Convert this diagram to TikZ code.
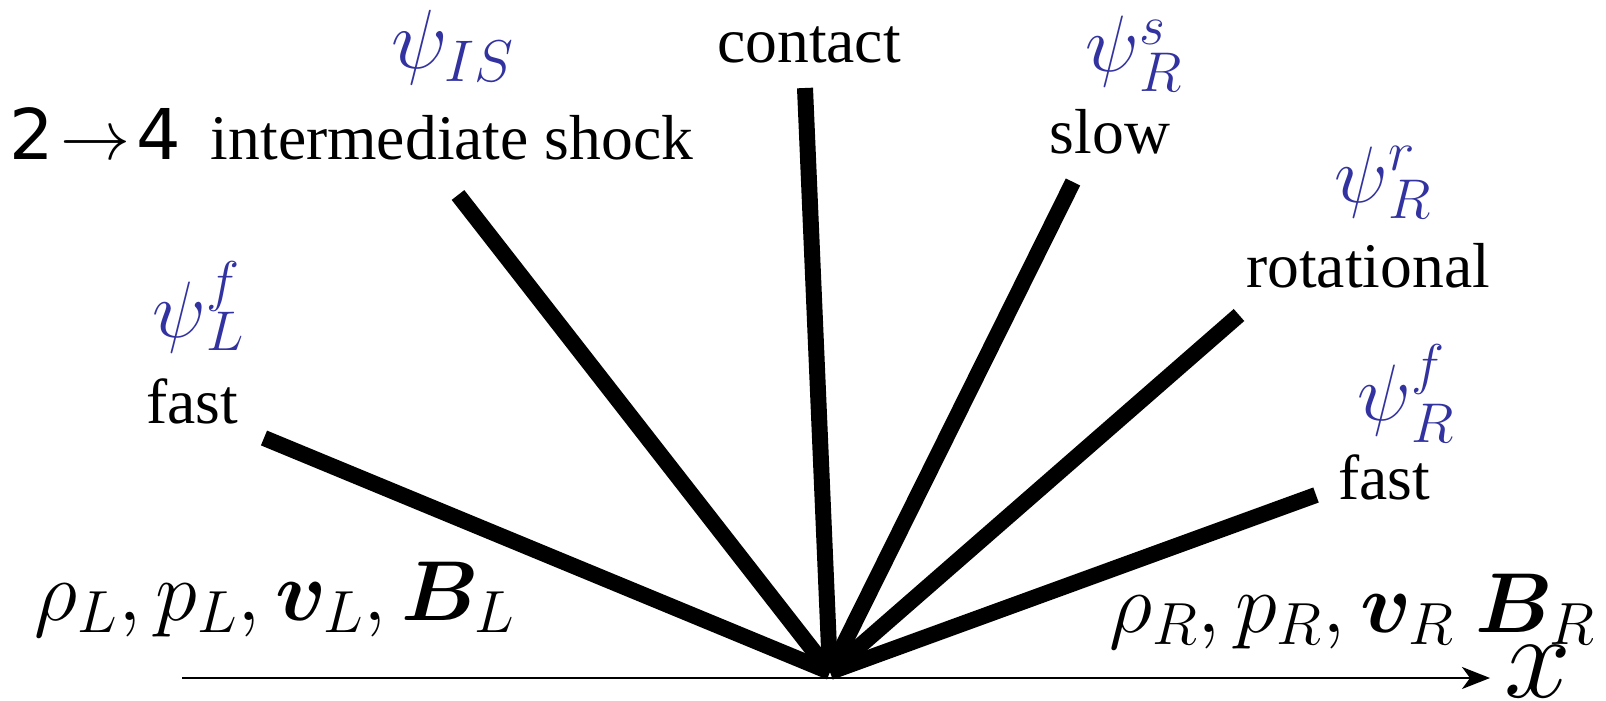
\documentclass[tikz,border=0pt]{standalone}
\usepackage{fix-cm}
\usepackage{bm}
\usepackage[no-math]{fontspec}
\setmainfont{Liberation Serif}
\newfontfamily\sansf{DejaVu Sans}
\usetikzlibrary{arrows.meta}
\definecolor{psiblue}{RGB}{50,50,160}
% psi with separately placed superscript (#1, raised #3) and subscript (#2, lowered #4)
\newcommand{\psiss}[4]{\psi\rlap{\raisebox{#3}{$\scriptstyle #1$}}\raisebox{-#4}{$\scriptstyle #2$}}
\begin{document}
\begin{tikzpicture}[x=0.5pt,y=-0.5pt,
  wave/.style={line width=8pt,line cap=butt},
  lbl/.style={font=\fontsize{31.8}{36}\selectfont, inner sep=0pt},
  psi/.style={text=psiblue, font=\fontsize{40}{46}\selectfont, inner sep=0pt},
  statelbl/.style={font=\fontsize{42.5}{48}\selectfont, inner sep=0pt},
  axis/.style={line width=1pt,-{Stealth[length=14pt,width=11pt,inset=4pt]}}]
\path[use as bounding box] (0,0) rectangle (1606,701);
% origin and wave ends
\coordinate (O) at (830,672);
\coordinate (lf) at (264,438);
\coordinate (is) at (458,195);
\coordinate (ct) at (805,88);
\coordinate (sl) at (1073,182);
\coordinate (rt) at (1239,315);
\coordinate (rf) at (1316,495);
\draw[wave] (O) -- (lf);
\draw[wave] (O) -- (is);
\draw[wave] (O) -- (ct);
\draw[wave] (O) -- (sl);
\draw[wave] (O) -- (rt);
\draw[wave] (O) -- (rf);
% axis
\coordinate (xs) at (182,678);
\coordinate (xe) at (1490,678);
\draw[axis] (xs) -- (xe);
\node[inner sep=0pt,font=\fontsize{60}{66}\selectfont] (xlab) at (1538,672) {$x$};
% labels
\node[lbl,anchor=base] (islab) at (452,159) {intermediate shock};
\node[anchor=base,inner sep=0pt,font=\fontsize{35}{40}\selectfont] (ratio) at (95,159) {\sansf 2\hspace{3pt}$\rightarrow$\hspace{3pt}4};
\node[psi,font=\fontsize{42}{48}\selectfont] (psiis) at (453,48) {$\psi_{IS}$};
\node[lbl,anchor=base] (ctlab) at (809,63) {contact};
\node[psi,anchor=base west] (psis) at (1085,72) {$\psiss{s}{R}{13.5pt}{10pt}$};
\node[lbl,anchor=base] (sllab) at (1110,154) {slow};
\node[psi,anchor=base west] (psir) at (1334,202) {$\psiss{r}{R}{16pt}{8pt}$};
\node[lbl,anchor=base] (rtlab) at (1368,287) {rotational};
\node[psi,anchor=base west] (psirf) at (1357,420) {$\psiss{f}{R}{18.25pt}{11pt}$};
\node[lbl,anchor=base] (rflab) at (1384,499) {fast};
\node[psi,anchor=base west] (psilf) at (152,337) {$\psiss{f}{L}{18.5pt}{6.5pt}$};
\node[lbl,anchor=base] (lflab) at (192,423) {fast};
\node[statelbl,anchor=base] (left) at (275,620) {$\rho_L, p_L, \bm{v}_L, \bm{B}_L$};
\node[statelbl,anchor=base] (right) at (1352,632) {$\rho_R, p_R, \bm{v}_R\ \bm{B}_R$};
\end{tikzpicture}
\end{document}
